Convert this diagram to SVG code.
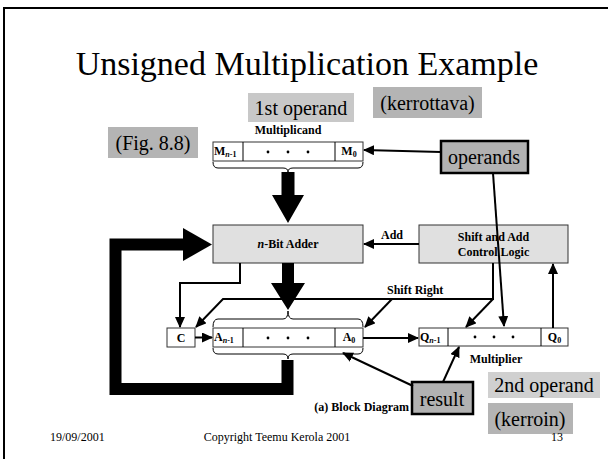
<svg xmlns="http://www.w3.org/2000/svg" width="608" height="459" viewBox="0 0 608 459">
<style>
.t{font-family:"Liberation Serif","Times New Roman",serif;fill:#000}
.b{font-weight:bold;font-size:12px}
.s{font-size:8px}
.lbl{font-size:20px}
.reg{fill:#fff;stroke:#333;stroke-width:1}
.blk{fill:#e0e0e0;stroke:#333;stroke-width:1}
.gbox{stroke:none}
.hb{fill:#b2b2b2;stroke:#000;stroke-width:2.5}
.ln{fill:none;stroke:#000;stroke-width:2}
.thin{fill:none;stroke:#000;stroke-width:1}
</style>
<defs>
<marker id="ah" markerWidth="11" markerHeight="10" refX="10" refY="5" orient="auto" markerUnits="userSpaceOnUse">
<path d="M0,0 L11,5 L0,10 z" fill="#000"/>
</marker>
</defs>
<rect width="608" height="459" fill="#fff"/>
<path d="M4,459 L4,8 L608,8" fill="none" stroke="#000" stroke-width="2"/>
<text class="t" x="307" y="75" font-size="34" text-anchor="middle">Unsigned Multiplication Example</text>

<g id="label-1st-operand"><rect class="gbox" x="248" y="93" width="106" height="29" fill="#c8c8c8"/><text class="t lbl" x="301" y="115" text-anchor="middle">1st operand</text></g>
<g id="label-kerrottava"><rect class="gbox" x="373" y="87" width="109" height="31" fill="#b4b4b4"/><text class="t lbl" x="427.5" y="110" text-anchor="middle">(kerrottava)</text></g>
<g id="label-fig"><rect class="gbox" x="108" y="127" width="90" height="31" fill="#b4b4b4"/><text class="t lbl" x="153" y="150" text-anchor="middle">(Fig. 8.8)</text></g>
<g id="label-2nd-operand"><rect class="gbox" x="488" y="372" width="112" height="26" fill="#d0d0d0"/><text class="t lbl" x="544" y="392" text-anchor="middle">2nd operand</text></g>
<g id="label-kerroin"><rect class="gbox" x="488" y="403" width="85" height="31" fill="#b4b4b4"/><text class="t lbl" x="530" y="426" text-anchor="middle">(kerroin)</text></g>

<g id="multiplicand">
<text class="t b" x="288" y="134" text-anchor="middle">Multiplicand</text>
<rect class="reg" x="213" y="142" width="150" height="19"/>
<line class="thin" x1="243" y1="142" x2="243" y2="161"/>
<line class="thin" x1="335" y1="142" x2="335" y2="161"/>
<text class="t b" x="214" y="155">M<tspan class="s" font-style="italic" dy="2">n</tspan><tspan class="s">-1</tspan></text>
<text class="t b" x="349" y="155" text-anchor="middle">M<tspan class="s" dy="2">0</tspan></text>
<circle cx="268" cy="152" r="1.4"/><circle cx="288" cy="152" r="1.4"/><circle cx="308" cy="152" r="1.4"/>
<path class="thin" d="M213,162 Q213,168 218,168 L283,168 Q288,168 288,172 Q288,168 293,168 L358,168 Q363,168 363,162"/>
</g>

<g id="adder">
<rect class="blk" x="213" y="225" width="150" height="38"/>
<text class="t b" x="288" y="248" text-anchor="middle"><tspan font-style="italic">n</tspan>-Bit Adder</text>
</g>

<g id="control">
<rect class="blk" x="419" y="225" width="149" height="38"/>
<text class="t b" x="493.5" y="241" text-anchor="middle">Shift and Add</text>
<text class="t b" x="493.5" y="256" text-anchor="middle">Control Logic</text>
</g>

<g id="c-reg">
<rect class="reg" x="167" y="328" width="28" height="19"/>
<text class="t b" x="181" y="342" text-anchor="middle">C</text>
</g>

<g id="a-reg">
<path class="thin" d="M213,327 Q213,319 218,319 L283,319 Q288,319 288,311 Q288,319 293,319 L358,319 Q363,319 363,327"/>
<rect class="reg" x="213" y="328" width="150" height="19"/>
<line class="thin" x1="243" y1="328" x2="243" y2="347"/>
<line class="thin" x1="335" y1="328" x2="335" y2="347"/>
<text class="t b" x="214" y="341">A<tspan class="s" font-style="italic" dy="2">n</tspan><tspan class="s">-1</tspan></text>
<text class="t b" x="349" y="341" text-anchor="middle">A<tspan class="s" dy="2">0</tspan></text>
<circle cx="268" cy="338" r="1.4"/><circle cx="288" cy="338" r="1.4"/><circle cx="308" cy="338" r="1.4"/>
<path class="thin" d="M213,348 Q213,354 218,354 L283,354 Q288,354 288,359 Q288,354 293,354 L358,354 Q363,354 363,348"/>
</g>

<g id="q-reg">
<rect class="reg" x="419" y="328" width="149" height="18"/>
<line class="thin" x1="448" y1="328" x2="448" y2="346"/>
<line class="thin" x1="541" y1="328" x2="541" y2="346"/>
<text class="t b" x="420" y="341">Q<tspan class="s" font-style="italic" dy="2">n</tspan><tspan class="s">-1</tspan></text>
<text class="t b" x="554.5" y="341" text-anchor="middle">Q<tspan class="s" dy="2">0</tspan></text>
<circle cx="475" cy="337" r="1.4"/><circle cx="494" cy="337" r="1.4"/><circle cx="513" cy="337" r="1.4"/>
<text class="t b" x="496" y="363" text-anchor="middle">Multiplier</text>
</g>

<g id="operands"><rect class="hb" x="441" y="141" width="87" height="32"/><text class="t lbl" x="484" y="164" text-anchor="middle">operands</text></g>
<g id="result"><rect class="hb" x="412" y="382" width="61" height="32"/><text class="t lbl" x="442" y="406" text-anchor="middle">result</text></g>

<text class="t b" x="409" y="411" text-anchor="end">(a) Block Diagram</text>

<g id="connectors">
<path d="M281.5,172 L294.5,172 L294.5,195 L304,195 L288,223 L272,195 L281.5,195 z" fill="#000"/>
<path d="M282,263 L294,263 L294,283 L305,283 L288,310 L271,283 L282,283 z" fill="#000"/>
<path d="M287.5,360 L287.5,389 L115.5,389 L115.5,244.5 L185,244.5" fill="none" stroke="#000" stroke-width="12" stroke-linejoin="miter"/>
<path d="M183,228 L212,244.5 L183,261 z" fill="#000"/>
<line class="ln" x1="419" y1="244" x2="364" y2="244" marker-end="url(#ah)"/>
<text class="t b" x="381" y="239">Add</text>
<polyline class="ln" points="240,263 240,283 180,283 180,327" marker-end="url(#ah)"/>
<polyline class="ln" points="493,263 493,299 223,299 196,327" marker-end="url(#ah)"/>
<line class="ln" x1="392" y1="299" x2="365" y2="327" marker-end="url(#ah)"/>
<line class="ln" x1="493" y1="299" x2="466" y2="327" marker-end="url(#ah)"/>
<text class="t b" x="387" y="294">Shift Right</text>
<line class="ln" x1="195" y1="337.5" x2="212" y2="337.5" marker-end="url(#ah)"/>
<line class="ln" x1="363" y1="338" x2="418" y2="338" marker-end="url(#ah)"/>
<line class="ln" x1="553" y1="328" x2="553" y2="264" marker-end="url(#ah)"/>
<line class="ln" x1="441" y1="152" x2="364" y2="150" marker-end="url(#ah)"/>
<line class="ln" x1="493" y1="173" x2="504" y2="326" marker-end="url(#ah)"/>
<line class="ln" x1="413" y1="386" x2="343" y2="353" marker-end="url(#ah)"/>
<line class="ln" x1="443" y1="382" x2="459" y2="347" marker-end="url(#ah)"/>
</g>

<text class="t" x="50" y="441" font-size="12">19/09/2001</text>
<text class="t" x="277" y="441" font-size="12" text-anchor="middle">Copyright Teemu Kerola 2001</text>
<text class="t" x="563" y="441" font-size="12" text-anchor="end">13</text>
</svg>
